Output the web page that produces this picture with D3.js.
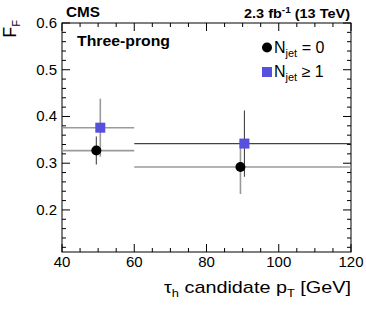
<!DOCTYPE html>
<html><head><meta charset="utf-8">
<script src="https://cdn.jsdelivr.net/npm/d3@7"></script>
<style>body{margin:0;background:#fff}svg{display:block}text{font-family:"Liberation Sans",Arial,Helvetica,sans-serif}</style>
</head><body>
<script>
// ---- data ----
const binLow  = [40, 60];
const binHigh = [60, 120];
const xNjet0  = [49.5, 89.4];
const yNjet0  = [0.327, 0.292];
const eNjet0  = [0.030, 0.058];
const xNjet1  = [50.6, 90.5];
const yNjet1  = [0.376, 0.342];
const eNjet1  = [0.062, 0.071];
const xTicks  = [40, 60, 80, 100, 120];
const yTicks  = [0.2, 0.3, 0.4, 0.5, 0.6];

// ---- layout ----
const W = 366, H = 312;
const L = 62, R = 351, T = 23, B = 252;
const svg = d3.select("body").append("svg").attr("width", W).attr("height", H);
const x = d3.scaleLinear().domain([40, 120]).range([L, R]);
const y = d3.scaleLinear().domain([0.11, 0.6]).range([B, T]);

// frame
svg.append("rect").attr("x", L).attr("y", T).attr("width", R - L).attr("height", B - T)
  .attr("fill", "none").attr("stroke", "#000").attr("stroke-width", 1);

// ticks (mirrored)
const xMinor = d3.range(40, 120.01, 5);
const yMinor = d3.range(0.12, 0.6001, 0.02);
const tk = svg.append("g").attr("stroke", "#000").attr("stroke-width", 1);
xMinor.forEach(v => {
  const major = xTicks.some(t => Math.abs(t - v) < 1e-6);
  const len = major ? 8 : 4;
  tk.append("line").attr("x1", x(v)).attr("x2", x(v)).attr("y1", B).attr("y2", B - len);
  tk.append("line").attr("x1", x(v)).attr("x2", x(v)).attr("y1", T).attr("y2", T + len);
});
yMinor.forEach(v => {
  const major = yTicks.some(t => Math.abs(t - v) < 1e-6);
  const len = major ? 8 : 4;
  tk.append("line").attr("x1", L).attr("x2", L + len).attr("y1", y(v)).attr("y2", y(v));
  tk.append("line").attr("x1", R).attr("x2", R - len).attr("y1", y(v)).attr("y2", y(v));
});

// tick labels
svg.append("g").selectAll("text").data(xTicks).join("text")
  .attr("x", d => x(d)).attr("y", 267).attr("text-anchor", "middle")
  .attr("font-size", 15).text(d => d);
svg.append("g").selectAll("text").data(yTicks).join("text")
  .attr("x", 57).attr("y", d => y(d) + 5).attr("text-anchor", "end")
  .attr("font-size", 15).text(d => d.toFixed(1));

// axis titles
const xt = svg.append("text").attr("x", 164).attr("y", 293).attr("font-size", 17)
  .attr("textLength", 187).attr("lengthAdjust", "spacingAndGlyphs");
xt.append("tspan").text("τ");
xt.append("tspan").attr("font-size", 11).attr("dy", 4).text("h");
xt.append("tspan").attr("dy", -4).text(" candidate p");
xt.append("tspan").attr("font-size", 11).attr("dy", 4).text("T");
xt.append("tspan").attr("dy", -4).text(" [GeV]");

const yt = svg.append("text").attr("transform", `translate(16,20) rotate(-90)`)
  .attr("text-anchor", "end").attr("font-size", 18);
yt.append("tspan").text("F");
yt.append("tspan").attr("font-size", 11).attr("dy", 4).text("F");

// header texts
svg.append("text").attr("x", 66).attr("y", 17).attr("font-size", 14).attr("font-weight", "bold")
  .attr("textLength", 34).attr("lengthAdjust", "spacingAndGlyphs").text("CMS");
const lum = svg.append("text").attr("x", 244).attr("y", 18)
  .attr("font-size", 13).attr("font-weight", "bold")
  .attr("textLength", 106).attr("lengthAdjust", "spacingAndGlyphs");
lum.append("tspan").text("2.3 fb");
lum.append("tspan").attr("font-size", 9).attr("dy", -5).text("-1");
lum.append("tspan").attr("dy", 5).text(" (13 TeV)");
svg.append("text").attr("x", 77).attr("y", 46).attr("font-size", 15).attr("font-weight", "bold")
  .attr("textLength", 93).attr("lengthAdjust", "spacingAndGlyphs").text("Three-prong");

// error bars
const GRAY = "#9a9a9a", DARK = "#444";
const series = [
  {xs: xNjet0, ys: yNjet0, es: eNjet0, vStyle: [DARK, GRAY], hStyle: [GRAY, GRAY]},
  {xs: xNjet1, ys: yNjet1, es: eNjet1, vStyle: [GRAY, DARK], hStyle: [GRAY, DARK]}
];
const eb = svg.append("g");
series.forEach(s => {
  s.xs.forEach((xv, i) => {
    const hc = s.hStyle[i], vc = s.vStyle[i];
    eb.append("line").attr("x1", x(binLow[i])).attr("x2", x(binHigh[i]))
      .attr("y1", y(s.ys[i])).attr("y2", y(s.ys[i]))
      .attr("stroke", hc).attr("stroke-width", hc === GRAY ? 1.6 : 1.1);
    eb.append("line").attr("x1", x(xv)).attr("x2", x(xv))
      .attr("y1", y(s.ys[i] - s.es[i])).attr("y2", y(s.ys[i] + s.es[i]))
      .attr("stroke", vc).attr("stroke-width", vc === GRAY ? 1.6 : 1.1);
  });
});

// markers
const BLUE = "#5550dd";
svg.append("g").selectAll("rect").data(xNjet1.map((v, i) => [v, yNjet1[i]])).join("rect")
  .attr("x", d => x(d[0]) - 5).attr("y", d => y(d[1]) - 5).attr("width", 10).attr("height", 10)
  .attr("fill", BLUE);
svg.append("g").selectAll("circle").data(xNjet0.map((v, i) => [v, yNjet0[i]])).join("circle")
  .attr("cx", d => x(d[0])).attr("cy", d => y(d[1])).attr("r", 5).attr("fill", "#000");

// legend
svg.append("circle").attr("cx", 267).attr("cy", 47.5).attr("r", 5).attr("fill", "#000");
const l1 = svg.append("text").attr("x", 274).attr("y", 53).attr("font-size", 16);
l1.append("tspan").text("N");
l1.append("tspan").attr("font-size", 11).attr("dy", 4).text("jet");
l1.append("tspan").attr("dy", -4).text(" = 0");
svg.append("rect").attr("x", 262).attr("y", 67).attr("width", 10).attr("height", 10).attr("fill", BLUE);
const l2 = svg.append("text").attr("x", 274).attr("y", 77).attr("font-size", 16);
l2.append("tspan").text("N");
l2.append("tspan").attr("font-size", 11).attr("dy", 4).text("jet");
l2.append("tspan").attr("dy", -4).text(" ≥ 1");
</script>
</body></html>
